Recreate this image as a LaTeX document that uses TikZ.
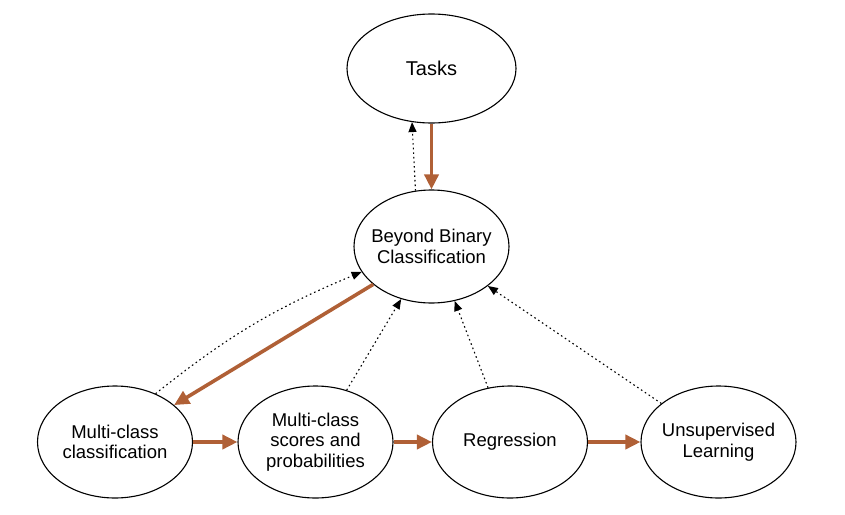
\documentclass[tikz,border=0pt]{standalone}
\usepackage{fontspec}
\setmainfont{Liberation Sans}
\usetikzlibrary{shapes.geometric,arrows.meta}
\definecolor{rust}{RGB}{176,96,54}
\tikzset{
  oval/.style={ellipse, draw=black, line width=1.1pt, fill=white,
    inner xsep=-8pt, inner ysep=-12pt,
    minimum width=155pt, minimum height=112pt, align=center,
    font=\fontsize{18.5}{20.5}\selectfont},
  mainarrow/.style={draw=rust, line width=3.6pt,
    -{Triangle[length=15pt,width=14pt,fill=rust]}},
  backarrow/.style={draw=black, line width=1.1pt, dash pattern=on 1.6pt off 3pt,
    -{Triangle[length=10pt,width=8pt]}}
}
\begin{document}
\begin{tikzpicture}[x=1pt,y=-1pt]
\useasboundingbox (0,0) rectangle (845,514);
\node[oval, minimum width=169pt, minimum height=109pt, font=\fontsize{20}{23}\selectfont] (tasks) at (431.5,68.5) {Tasks};
\node[oval, minimum height=113pt] (beyond) at (431.5,246.5) {Beyond Binary\\Classification};
\node[oval] (mc) at (115,442) {Multi-class\\classification};
\node[oval] (scores) at (315.5,442) {Multi-class\\scores and\\probabilities};
\node[oval] (reg) at (510,442) {Regression};
\node[oval] (unsup) at (718.5,442) {Unsupervised\\Learning};

\draw[mainarrow] (tasks.south) -- (beyond.north);
\draw[backarrow] (beyond.106) -- (tasks.250);
\draw[mainarrow] (beyond.213) -- (mc.32);
\draw[backarrow] (mc.50) to[bend left=8] (beyond.200);
\draw[backarrow] (scores.59) -- (beyond.240);
\draw[backarrow] (reg.112) -- (beyond.293);
\draw[backarrow] (unsup.146) -- (beyond.325);
\draw[mainarrow] (mc.east) -- (scores.west);
\draw[mainarrow] (scores.east) -- (reg.west);
\draw[mainarrow] (reg.east) -- (unsup.west);
\end{tikzpicture}
\end{document}
